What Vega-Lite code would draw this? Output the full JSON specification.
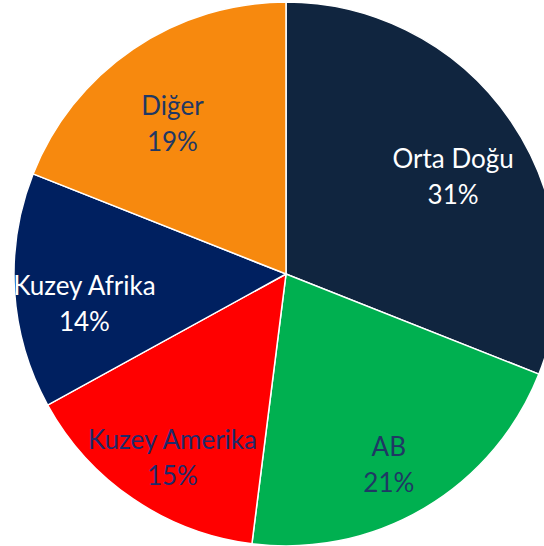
{
  "$schema": "https://vega.github.io/schema/vega-lite/v6.json",
  "width": 572,
  "height": 548,
  "autosize": "none",
  "padding": 0,
  "background": "white",
  "data": {
    "values": [
      {"region": "Orta Doğu", "value": 31, "label": "Orta Doğu\n31%", "rank": 1},
      {"region": "AB", "value": 21, "label": "AB\n21%", "rank": 2},
      {"region": "Kuzey Amerika", "value": 15, "label": "Kuzey Amerika\n15%", "rank": 3},
      {"region": "Kuzey Afrika", "value": 14, "label": "Kuzey Afrika\n14%", "rank": 4},
      {"region": "Diğer", "value": 19, "label": "Diğer\n19%", "rank": 5}
    ]
  },
  "encoding": {
    "theta": {"field": "value", "type": "quantitative", "stack": true},
    "order": {"field": "rank", "type": "quantitative"}
  },
  "layer": [
    {
      "mark": {"type": "arc", "outerRadius": 272, "stroke": "white", "strokeWidth": 1.5},
      "encoding": {
        "color": {
          "field": "region",
          "type": "nominal",
          "scale": {
            "domain": ["Orta Doğu", "AB", "Kuzey Amerika", "Kuzey Afrika", "Diğer"],
            "range": ["#10253F", "#00B050", "#FF0000", "#002060", "#F7890E"]
          },
          "legend": null
        }
      }
    },
    {
      "mark": {"type": "text", "radius": 202, "fontSize": 26, "font": "Lato", "lineBreak": "\n", "lineHeight": 36, "baseline": "middle", "align": "center"},
      "encoding": {
        "text": {"field": "label", "type": "nominal"},
        "color": {
          "field": "region",
          "type": "nominal",
          "scale": {
            "domain": ["Orta Doğu", "AB", "Kuzey Amerika", "Kuzey Afrika", "Diğer"],
            "range": ["#FFFFFF", "#1F3864", "#1F2A6B", "#FFFFFF", "#1F3864"]
          },
          "legend": null
        }
      }
    }
  ],
  "resolve": {"scale": {"color": "independent"}}
}
